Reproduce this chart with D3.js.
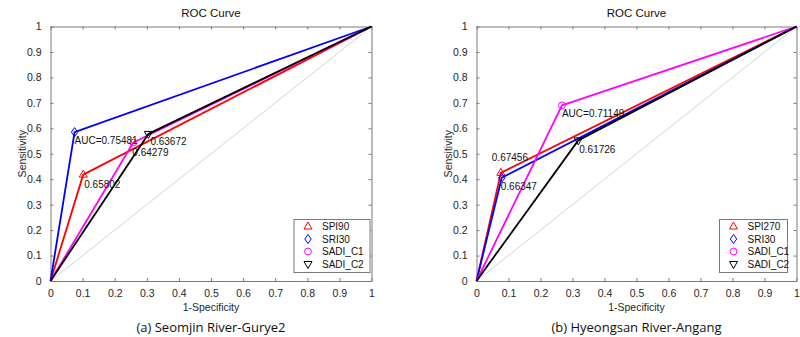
<!DOCTYPE html>
<html>
<head>
<meta charset="utf-8">
<script src="https://cdn.jsdelivr.net/npm/d3@7"></script>
<style>
  body { margin: 0; background: #fff; }
  svg { display: block; }
  .tick text { font-family: "Liberation Sans", Arial, sans-serif; }
</style>
</head>
<body>
<div class="graph"></div>
<script>
// ROC points (1-specificity, sensitivity) and AUC for each index
var tickValues = [0, 0.1, 0.2, 0.3, 0.4, 0.5, 0.6, 0.7, 0.8, 0.9, 1];
var seriesColors = ["#ff0000", "#0000ff", "#ff00ff", "#000000"];
var seriesMarkers = ["triUp", "diamond", "circle", "triDown"];

var gurye2Names = ["SPI90", "SRI30", "SADI_C1", "SADI_C2"];
var gurye2Fpr = [0.102, 0.075, 0.258, 0.305];
var gurye2Tpr = [0.418, 0.585, 0.544, 0.578];
var gurye2Auc = [0.65802, 0.75481, 0.64279, 0.63672];

var angangNames = ["SPI270", "SRI30", "SADI_C1", "SADI_C2"];
var angangFpr = [0.076, 0.079, 0.267, 0.318];
var angangTpr = [0.425, 0.406, 0.690, 0.5525];
var angangAuc = [0.67456, 0.66347, 0.71149, 0.61726];

var svg = d3.select(".graph").append("svg")
  .attr("width", 800)
  .attr("height", 337);

svg.append("rect").attr("width", 800).attr("height", 337).attr("fill", "#fff");

var sans = "'Liberation Sans', Arial, sans-serif";

function markerPath(kind) {
  if (kind === "triUp") return "M0,-4.5L4,2.5L-4,2.5Z";
  if (kind === "triDown") return "M0,4.5L4,-2.5L-4,-2.5Z";
  if (kind === "diamond") return "M0,-4.5L3.2,0L0,4.5L-3.2,0Z";
  return d3.symbol().type(d3.symbolCircle).size(36)();
}

function drawPanel(p) {
  var width = p.width, height = p.height;
  var g = svg.append("g").attr("transform", "translate(" + p.left + "," + p.top + ")");

  var x = d3.scaleLinear().domain([0, 1]).range([0, width]);
  var y = d3.scaleLinear().domain([0, 1]).range([height, 0]);

  // reference diagonal
  g.append("line")
    .attr("x1", x(0)).attr("y1", y(0)).attr("x2", x(1)).attr("y2", y(1))
    .attr("stroke", "#d4d4d4").attr("stroke-width", 1);

  // axes on all four sides, ticks pointing inward
  var axes = [
    { ax: d3.axisBottom(x).tickValues(tickValues).tickFormat(d3.format("")), t: "translate(0," + height + ")", labels: true },
    { ax: d3.axisLeft(y).tickValues(tickValues).tickFormat(d3.format("")), t: "translate(0,0)", labels: true },
    { ax: d3.axisTop(x).tickValues(tickValues), t: "translate(0,0)", labels: false },
    { ax: d3.axisRight(y).tickValues(tickValues), t: "translate(" + width + ",0)", labels: false }
  ];
  axes.forEach(function (a) {
    a.ax.tickSizeInner(-3).tickSizeOuter(0).tickPadding(9);
    var ag = g.append("g").attr("transform", a.t).call(a.ax);
    ag.select(".domain").attr("stroke", "#7a7a7a");
    ag.selectAll(".tick line").attr("stroke", "#7a7a7a");
    ag.selectAll(".tick text")
      .attr("fill", "#262626")
      .attr("font-size", 10.5)
      .attr("font-family", sans);
    if (!a.labels) ag.selectAll(".tick text").remove();
  });

  var line = d3.line().x(d => x(d[0])).y(d => y(d[1]));
  var best = d3.maxIndex(p.auc);

  p.names.forEach(function (name, i) {
    var pts = [[0, 0], [p.fpr[i], p.tpr[i]], [1, 1]];
    g.append("path")
      .datum(pts)
      .attr("fill", "none")
      .attr("stroke", seriesColors[i])
      .attr("stroke-width", 1.8)
      .attr("stroke-linejoin", "round")
      .attr("d", line);
    g.append("path")
      .attr("d", markerPath(seriesMarkers[i]))
      .attr("transform", "translate(" + x(p.fpr[i]) + "," + y(p.tpr[i]) + ")")
      .attr("fill", "none")
      .attr("stroke", seriesColors[i])
      .attr("stroke-width", 1);
  });

  // AUC labels next to each operating point
  p.names.forEach(function (name, i) {
    var off = p.labelOffsets[i];
    var txt = (i === best ? "AUC=" : "") + d3.format(".5f")(p.auc[i]);
    g.append("text")
      .attr("x", x(p.fpr[i]) + off[0])
      .attr("y", y(p.tpr[i]) + off[1])
      .attr("font-family", sans)
      .attr("font-size", 10)
      .attr("fill", "#111")
      .text(txt);
  });

  // title and axis labels
  g.append("text")
    .attr("x", width / 2).attr("y", -10)
    .attr("text-anchor", "middle")
    .attr("font-family", sans).attr("font-size", 11.5).attr("fill", "#111")
    .text("ROC Curve");
  g.append("text")
    .attr("x", width / 2).attr("y", height + 30)
    .attr("text-anchor", "middle")
    .attr("font-family", sans).attr("font-size", 10.5).attr("fill", "#262626")
    .text("1-Specificity");
  g.append("text")
    .attr("transform", "translate(-25," + (height / 2) + ") rotate(-90)")
    .attr("text-anchor", "middle")
    .attr("font-family", sans).attr("font-size", 10.5).attr("fill", "#262626")
    .text("Sensitivity");

  // legend box
  var lg = g.append("g").attr("transform", "translate(" + p.legend[0] + "," + p.legend[1] + ")");
  lg.append("rect")
    .attr("width", p.legend[2]).attr("height", 53)
    .attr("fill", "#fff").attr("stroke", "#7a7a7a").attr("stroke-width", 1);
  p.names.forEach(function (name, i) {
    var ly = 7 + i * 12.5;
    lg.append("path")
      .attr("d", markerPath(seriesMarkers[i]))
      .attr("transform", "translate(14," + ly + ")")
      .attr("fill", "none")
      .attr("stroke", seriesColors[i])
      .attr("stroke-width", 1);
    lg.append("text")
      .attr("x", 28).attr("y", ly + 3.5)
      .attr("font-family", sans).attr("font-size", 10).attr("fill", "#111")
      .text(name);
  });

  // panel caption
  g.append("text")
    .attr("x", width / 2).attr("y", height + 51)
    .attr("text-anchor", "middle")
    .attr("font-family", "'Open Sans', 'Noto Sans', sans-serif")
    .attr("font-size", 13).attr("fill", "#111")
    .text(p.caption);
}

drawPanel({
  left: 50.5, top: 26.5, width: 321, height: 254.5,
  names: gurye2Names, fpr: gurye2Fpr, tpr: gurye2Tpr, auc: gurye2Auc,
  labelOffsets: [[1, 13], [0, 12], [-1, 13], [2, 11]],
  legend: [243.5, 193, 76],
  caption: "(a) Seomjin River-Gurye2"
});

drawPanel({
  left: 476.5, top: 26.5, width: 320, height: 254.5,
  names: angangNames, fpr: angangFpr, tpr: angangTpr, auc: angangAuc,
  labelOffsets: [[-9, -12], [-1, 12], [0, 12], [1, 13]],
  legend: [243, 193, 68],
  caption: "(b) Hyeongsan River-Angang"
});
</script>
</body>
</html>
